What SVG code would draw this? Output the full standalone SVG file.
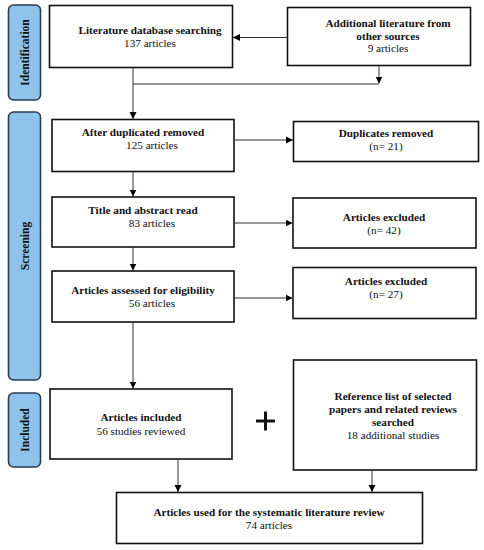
<svg xmlns="http://www.w3.org/2000/svg" width="484" height="550" viewBox="0 0 484 550">
<defs>
<marker id="ah" markerWidth="8" markerHeight="8" refX="7" refY="4" orient="auto" markerUnits="userSpaceOnUse">
<path d="M0,0.5 L7,4 L0,7.5 Z" fill="#000"/>
</marker>
<style>
.box{fill:#fff;stroke:#111;stroke-width:1.6}
.side{fill:#8ec4ec;stroke:#2a3d57;stroke-width:1.6}
.t{font-family:"Liberation Serif","Times New Roman",serif;font-size:11.2px;fill:#111;text-anchor:middle}
.b{font-weight:bold}
.st{font-family:"Liberation Serif","Times New Roman",serif;font-size:11.5px;font-weight:bold;fill:#111;text-anchor:middle}
.c{fill:none;stroke:#333;stroke-width:1}
</style>
</defs>
<rect width="484" height="550" fill="#fff"/>
<g id="stage-identification"><rect class="side" x="8.5" y="5" width="32" height="95" rx="5"/><text class="st" transform="translate(28.5,52.5) rotate(-90)">Identification</text></g>
<g id="stage-screening"><rect class="side" x="8.5" y="112" width="32" height="268" rx="5"/><text class="st" transform="translate(28.5,246) rotate(-90)">Screening</text></g>
<g id="stage-included"><rect class="side" x="8.5" y="393" width="32" height="74" rx="5"/><text class="st" transform="translate(28.5,430) rotate(-90)">Included</text></g>

<g id="n1"><rect class="box" x="49.5" y="5.5" width="183" height="62"/><text class="t b" x="150" y="34">Literature database searching</text><text class="t" x="150" y="47">137 articles</text></g>
<g id="n2"><rect class="box" x="287.5" y="7.5" width="183" height="58"/><text class="t b" x="388" y="27">Additional literature from</text><text class="t b" x="388" y="39.5">other sources</text><text class="t" x="388" y="52">9 articles</text></g>
<g id="n3"><rect class="box" x="52" y="119.5" width="182" height="52"/><text class="t b" x="143" y="136">After duplicated removed</text><text class="t" x="152" y="149">125 articles</text></g>
<g id="n4"><rect class="box" x="293.5" y="121.5" width="185" height="40"/><text class="t b" x="386" y="137">Duplicates removed</text><text class="t" x="386" y="150">(n= 21)</text></g>
<g id="n5"><rect class="box" x="52" y="197" width="182" height="50"/><text class="t b" x="143" y="213.5">Title and abstract read</text><text class="t" x="152" y="226.5">83 articles</text></g>
<g id="n6"><rect class="box" x="293" y="198" width="183" height="50"/><text class="t b" x="384" y="221">Articles excluded</text><text class="t" x="384" y="234">(n= 42)</text></g>
<g id="n7"><rect class="box" x="52" y="271" width="182" height="51"/><text class="t b" x="143" y="294">Articles assessed for eligibility</text><text class="t" x="152" y="307">56 articles</text></g>
<g id="n8"><rect class="box" x="293" y="267.5" width="183" height="51"/><text class="t b" x="386" y="285">Articles excluded</text><text class="t" x="386" y="298">(n= 27)</text></g>
<g id="n9"><rect class="box" x="50" y="389" width="182" height="70"/><text class="t b" x="141" y="421">Articles included</text><text class="t" x="141" y="435">56 studies reviewed</text></g>
<g id="plus"><path d="M256,421 H275 M265.5,411.5 V430.5" stroke="#111" stroke-width="3" fill="none"/></g>
<g id="n10"><rect class="box" x="293.5" y="360" width="183" height="110"/><text class="t b" x="393" y="399.5">Reference list of selected</text><text class="t b" x="393" y="412.5">papers and related reviews</text><text class="t b" x="393" y="425.5">searched</text><text class="t" x="393" y="438.5">18 additional studies</text></g>
<g id="n11"><rect class="box" x="116.5" y="492.5" width="306" height="51"/><text class="t b" x="269" y="515.5">Articles used for the systematic literature review</text><text class="t" x="269" y="528.5">74 articles</text></g>

<g id="connectors">
<line class="c" x1="287.5" y1="37.5" x2="233" y2="37.5" marker-end="url(#ah)"/>
<line class="c" x1="379" y1="65.5" x2="379" y2="83.5" marker-end="url(#ah)"/>
<line class="c" x1="133" y1="84" x2="379" y2="84"/>
<line class="c" x1="133" y1="67.5" x2="133" y2="119" marker-end="url(#ah)"/>
<line class="c" x1="234" y1="140" x2="293" y2="140" marker-end="url(#ah)"/>
<line class="c" x1="133" y1="171.5" x2="133" y2="196.5" marker-end="url(#ah)"/>
<line class="c" x1="234" y1="223" x2="292.5" y2="223" marker-end="url(#ah)"/>
<line class="c" x1="133" y1="247" x2="133" y2="270.5" marker-end="url(#ah)"/>
<line class="c" x1="234" y1="298" x2="292.5" y2="298" marker-end="url(#ah)"/>
<line class="c" x1="133" y1="322" x2="133" y2="388.5" marker-end="url(#ah)"/>
<line class="c" x1="178" y1="459" x2="178" y2="492" marker-end="url(#ah)"/>
<line class="c" x1="372" y1="470" x2="372" y2="492" marker-end="url(#ah)"/>
</g>
</svg>
